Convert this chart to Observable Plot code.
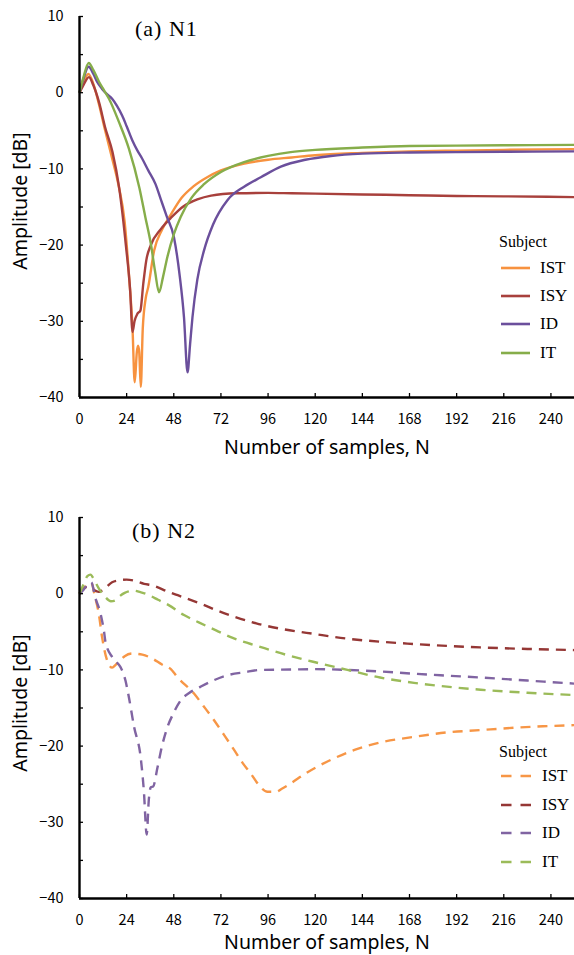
<!DOCTYPE html>
<html><head><meta charset="utf-8">
<script src="https://cdn.jsdelivr.net/npm/d3@7"></script>
<script src="https://cdn.jsdelivr.net/npm/@observablehq/plot@0.6"></script>
<style>
html,body{margin:0;padding:0;background:#fff;}
#root{position:relative;width:574px;height:955px;overflow:hidden;background:#fff;}
.panel{position:absolute;left:0;}
.title{position:absolute;font-family:"Liberation Serif",serif;font-size:22px;line-height:22px;letter-spacing:1px;white-space:nowrap;color:#000;}
.axlabel{position:absolute;font-family:"Noto Sans",sans-serif;font-size:19.5px;line-height:20px;white-space:nowrap;color:#000;transform:translate(-50%,-50%);}
.axlabel.rot{transform:translate(-50%,-50%) rotate(-90deg);}
.lgtitle{position:absolute;font-family:"Liberation Serif",serif;font-size:16px;line-height:20px;white-space:nowrap;color:#000;}
.lgitem{position:absolute;font-family:"Liberation Serif",serif;font-size:17px;line-height:20px;white-space:nowrap;color:#000;display:flex;align-items:center;}
.lgitem svg{margin-right:10px;}
</style></head>
<body><div id="root"></div>
<script>
// ---------- shared categories / ticks ----------
const subjects = ["IST", "ISY", "ID", "IT"];
const xTicks = [0, 24, 48, 72, 96, 120, 144, 168, 192, 216, 240];
const yTicks = [10, 0, -10, -20, -30, -40];
const yMinorTicks = [10, 5, 0, -5, -10, -15, -20, -25, -30, -35, -40];
const xDomain = [0, 252];
const yDomain = [-40, 10];
const xLabel = "Number of samples, N";
const yLabel = "Amplitude [dB]";
const panelTitles = ["(a) N1", "(b) N2"];
const legendTitle = "Subject";

// ---------- (a) N1, solid lines ----------
const n1_IST_N  = [0, 2, 4.5, 7, 10, 13, 16.5, 20, 23, 25.2, 27, 28.1, 29.2, 29.8, 30.4, 31.2, 32.2, 33.7, 35, 38, 42, 46.5, 52, 58, 65, 72, 84, 96, 108, 120, 144, 168, 192, 216, 252];
const n1_IST_dB = [0, 1.3, 2.45, 1.2, -1.6, -4.9, -8.5, -12.3, -17, -24, -31, -38.0, -34, -33.2, -34, -38.6, -31, -27, -25.5, -20.7, -18, -16.0, -13.8, -12.3, -11.1, -10.2, -9.3, -8.8, -8.5, -8.2, -7.9, -7.7, -7.6, -7.5, -7.4];

const n1_ISY_N  = [0, 2, 4.8, 7, 10, 13, 16.8, 20.2, 23.6, 25.8, 27, 28, 29.5, 31, 32.5, 34, 36.3, 41.4, 47, 53, 60, 67, 80, 96, 108, 120, 144, 168, 192, 216, 252];
const n1_ISY_dB = [0, 1.0, 2.05, 1.0, -1.3, -4.5, -7.8, -12.5, -20, -26, -31.4, -30, -29, -28.6, -25, -22, -20.0, -17.9, -16.3, -14.9, -14.0, -13.5, -13.2, -13.15, -13.2, -13.25, -13.35, -13.45, -13.55, -13.6, -13.7];

const n1_ID_N  = [0, 2, 4.6, 7, 9, 11.5, 14, 16.6, 19, 21.7, 24, 26.8, 29.5, 31.8, 35, 38.7, 41.4, 44.5, 48.1, 51, 53.2, 55, 56.3, 57.5, 60, 63.4, 68, 75.3, 84, 92.3, 102.5, 115, 128, 144, 168, 192, 216, 252];
const n1_ID_dB = [0, 1.8, 3.4, 2.5, 1.4, 0.5, -0.2, -0.8, -1.7, -3.0, -4.4, -6.2, -7.6, -8.6, -10.2, -12.0, -14.0, -16.3, -19.0, -24, -29.5, -36.7, -33, -29.5, -24.5, -20.7, -17.3, -14.1, -12.3, -11.1, -9.7, -8.8, -8.3, -8.0, -7.85, -7.8, -7.75, -7.7];

const n1_IT_N  = [0, 2, 4.7, 7, 10, 12.5, 15, 20, 25.1, 30.5, 33.5, 36.3, 38.5, 40.5, 42.5, 44.8, 48, 51.5, 57, 63.4, 72, 83.8, 96, 107.5, 120, 144, 168, 192, 216, 252];
const n1_IT_dB = [0, 2.0, 3.9, 3.0, 1.4, 0.3, -0.8, -3.8, -7.3, -12.5, -16.3, -19.8, -23.5, -26.2, -24.2, -21.5, -18.6, -16.3, -13.8, -12.0, -10.4, -9.1, -8.3, -7.8, -7.5, -7.2, -7.0, -6.95, -6.9, -6.85];

// ---------- (b) N2, dashed lines ----------
const n2_IST_N  = [0, 2, 4, 6, 8, 9.8, 11.5, 14, 16.6, 18.5, 20, 23, 26.8, 32, 37, 42, 46.5, 50, 58.3, 63, 68.5, 73.5, 78.7, 83, 87.2, 91, 95.7, 100, 103, 107.5, 115, 128, 140, 153.4, 170, 187.3, 204, 221, 236, 252];
const n2_IST_dB = [0, 0.7, 1.2, 1.4, -0.5, -2.6, -5.7, -8.7, -9.7, -9.3, -8.9, -8.2, -7.85, -8.0, -8.5, -9.3, -9.9, -11, -13.1, -14.7, -16.6, -18.5, -20.5, -22.2, -23.6, -25.0, -26.0, -26.0, -25.6, -24.9, -23.6, -21.8, -20.5, -19.5, -18.8, -18.2, -17.9, -17.6, -17.4, -17.25];

const n2_ISY_N  = [0, 2, 3.9, 6, 9.8, 12, 16.6, 20, 24, 28, 32.9, 37, 44.8, 50, 61.7, 70, 78.7, 90, 102.5, 120, 136.4, 153, 170.3, 187, 204, 228, 252];
const n2_ISY_dB = [0, 0.6, 0.9, 0.7, 0.24, 0.5, 1.5, 1.75, 1.85, 1.7, 1.3, 1.1, 0.3, -0.2, -1.3, -2.2, -3.0, -3.9, -4.6, -5.3, -5.9, -6.3, -6.6, -6.85, -7.05, -7.25, -7.4];

const n2_ID_N  = [0, 2, 4, 6, 8, 10.7, 12.5, 13.2, 16.6, 18.5, 20.8, 23.4, 25, 27.8, 31.2, 32.8, 34.2, 35.3, 36.3, 37.5, 39.7, 42, 44.8, 48, 51.5, 56, 61.7, 68, 75.3, 84, 92.3, 107.5, 120, 136.4, 153, 170.3, 187, 204.2, 228, 252];
const n2_ID_dB = [0, 0.5, 1.2, 1.5, -0.5, -2.6, -5.0, -6.3, -8.3, -8.9, -9.6, -11.4, -13.4, -17.5, -21.6, -26, -31.6, -27, -25.4, -25.3, -22.8, -20, -17.5, -15.6, -14.0, -13.0, -12.2, -11.4, -10.7, -10.3, -10.0, -9.95, -9.9, -10.0, -10.2, -10.5, -10.75, -11.0, -11.4, -11.8];

const n2_IT_N  = [0, 2, 4, 5.6, 7.5, 9.8, 13, 16, 18, 20.1, 23, 25, 27.8, 31, 33.6, 36.3, 40, 45.4, 53.2, 61, 70.2, 78, 87.2, 96, 105, 120, 136.4, 153, 170.3, 187, 204.2, 228, 252];
const n2_IT_dB = [0, 1.2, 2.3, 2.5, 1.8, 0.7, -0.4, -1.0, -0.9, -0.4, 0.1, 0.3, 0.4, 0.2, 0.0, -0.3, -0.8, -1.5, -2.8, -3.8, -4.9, -5.8, -6.6, -7.3, -8.0, -9.0, -10.0, -11.0, -11.7, -12.2, -12.6, -13.0, -13.3];

// ---------- colours ----------
const colorsN1 = ["#F7923F", "#A8403C", "#6B4F9C", "#86AD4A"];
const colorsN2 = ["#F79646", "#953735", "#8064A2", "#9BBB59"];

const seriesN1 = [[n1_IST_N, n1_IST_dB], [n1_ISY_N, n1_ISY_dB], [n1_ID_N, n1_ID_dB], [n1_IT_N, n1_IT_dB]];
const seriesN2 = [[n2_IST_N, n2_IST_dB], [n2_ISY_N, n2_ISY_dB], [n2_ID_N, n2_ID_dB], [n2_IT_N, n2_IT_dB]];

function toRows(series) {
  return series.flatMap(([Ns, dBs], k) => Ns.map((n, i) => ({N: n, dB: dBs[i], subject: subjects[k]})));
}

const axisFont = '"Noto Sans CJK JP", "Noto Sans", sans-serif';

function makePanel({series, colors, dash, height, marginTop, marginBottom}) {
  const rows = toRows(series);
  return Plot.plot({
    width: 574,
    height,
    marginLeft: 79,
    marginRight: 0,
    marginTop,
    marginBottom,
    x: {domain: xDomain},
    y: {domain: yDomain},
    color: {domain: subjects, range: colors},
    style: {fontFamily: axisFont, fontSize: "14.5px", color: "#000", background: "transparent", overflow: "visible"},
    marks: [
      Plot.line(rows, {x: "N", y: "dB", z: "subject", stroke: "subject", strokeWidth: 2.4, curve: "monotone-x",
        strokeDasharray: dash, strokeLinecap: "butt", strokeLinejoin: "round"}),
      // inward minor ticks
      Plot.axisY({ticks: yMinorTicks, tickSize: 4, dx: 4, fill: "none", stroke: "#000", strokeWidth: 1.3}),
      Plot.axisX({ticks: xTicks, tickSize: 4, dy: -4, fill: "none", stroke: "#000", strokeWidth: 1.3}),
      // tick labels
      Plot.axisY({ticks: yTicks, tickSize: 0, tickPadding: 16, tickFormat: d3.format(""), label: null}),
      Plot.axisX({ticks: xTicks, tickSize: 0, tickPadding: 16, label: null}),
      // axis lines
      Plot.ruleX([xDomain[0]], {stroke: "#000", strokeWidth: 2.4}),
      Plot.ruleY([yDomain[0]], {stroke: "#000", strokeWidth: 2.4})
    ]
  });
}

const root = document.getElementById("root");

function place(el, top) {
  const wrap = document.createElement("div");
  wrap.className = "panel";
  wrap.style.top = top + "px";
  wrap.appendChild(el);
  root.appendChild(wrap);
}

place(makePanel({series: seriesN1, colors: colorsN1, dash: null, height: 500, marginTop: 16, marginBottom: 103}), 0);
place(makePanel({series: seriesN2, colors: colorsN2, dash: "10,7", height: 455, marginTop: 17, marginBottom: 57}), 500);

function addDiv(cls, text, left, top) {
  const d = document.createElement("div");
  d.className = cls;
  d.textContent = text;
  d.style.left = left + "px";
  d.style.top = top + "px";
  root.appendChild(d);
  return d;
}
addDiv("title", panelTitles[0], 135, 18);
addDiv("title", panelTitles[1], 132, 520);
addDiv("axlabel", xLabel, 327, 447);
addDiv("axlabel", xLabel, 327, 942);
addDiv("axlabel rot", yLabel, 20, 201);
addDiv("axlabel rot", yLabel, 20, 703);

function addLegend(colors, dash, titleCenter, itemCenters, lineLen) {
  addDiv("lgtitle", legendTitle, 499, titleCenter - 10);
  subjects.forEach((s, i) => {
    const d = document.createElement("div");
    d.className = "lgitem";
    d.style.left = "501px";
    d.style.top = (itemCenters[i] - 10) + "px";
    const svg = d3.create("svg").attr("width", lineLen).attr("height", 6);
    svg.append("line").attr("x1", 0).attr("x2", lineLen).attr("y1", 3).attr("y2", 3)
      .attr("stroke", colors[i]).attr("stroke-width", 2.6)
      .attr("stroke-dasharray", dash ? "10.5,9" : null);
    d.appendChild(svg.node());
    const sp = document.createElement("span");
    sp.textContent = s;
    d.appendChild(sp);
    root.appendChild(d);
  });
}
addLegend(colorsN1, false, 242, [268, 296, 324, 353], 29);
addLegend(colorsN2, true, 752, [776, 805, 833, 862], 31);
</script>
</body></html>
